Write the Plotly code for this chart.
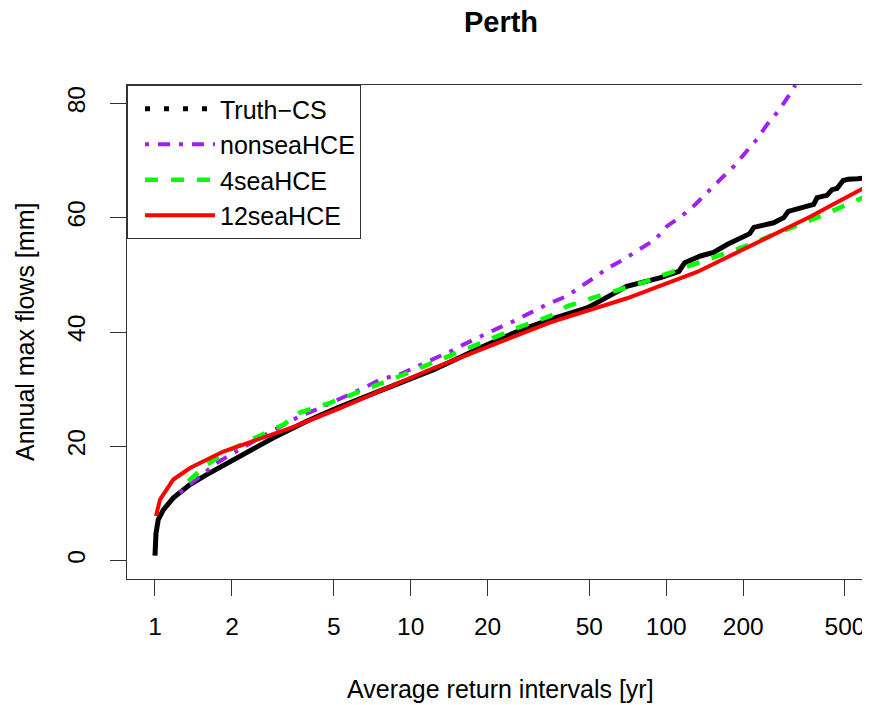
import plotly.graph_objects as go

# ---------------- data ----------------
truth_x = [1.0, 1.003, 1.009, 1.03, 1.078, 1.18, 1.37, 1.594, 2.15, 2.905, 3.92, 5.14,
           9.1, 12.3, 19.3, 26.8, 35.2, 42, 49, 55, 70, 95, 112, 118, 136, 153, 173,
           212, 220, 263, 288, 300, 362, 377, 389, 425, 445, 465, 492, 515, 560, 611]
truth_y = [0.9, 3.0, 4.8, 7.2, 8.9, 11.0, 13.3, 15.05, 18.3, 21.5, 24.4, 26.7,
           31.1, 33.4, 37.5, 40.3, 42.2, 43.3, 44.2, 45.4, 48.0, 49.5, 50.6, 52.1, 53.3, 53.9, 55.3,
           57.2, 58.3, 59.1, 60.0, 61.1, 62.0, 62.3, 63.5, 63.9, 64.9, 65.1, 66.5, 66.7, 66.8, 67.0]

nonsea_x = [1.25, 1.744, 2.50, 3.69, 4.42, 5.8, 6.75, 7.6, 9.1, 10.6, 12.3, 14.3, 16.1, 18.2,
            21.8, 25.3, 29.3, 34.1, 40.9, 53.5, 59.4, 68.1, 81.5, 90.6, 100.6, 115, 129.8,
            144, 162.7, 183, 204, 226, 248, 275, 301, 320]
nonsea_y = [11.9, 17.1, 21.2, 25.3, 26.7, 29.1, 30.5, 31.7, 32.6, 34.0, 35.2, 36.6, 37.8, 39.0,
            40.6, 41.9, 43.4, 44.8, 46.3, 49.8, 51.2, 52.7, 55.0, 56.2, 58.5, 60.3, 62.3,
            64.4, 66.7, 68.9, 71.4, 73.7, 76.3, 78.7, 81.3, 83.2]

sea4_x = [1.35, 1.594, 1.966, 3.18, 3.69, 4.84, 9.1, 13.9, 26.8, 35.2, 40.9, 51.9, 66.1, 84,
          103.7, 132, 163, 204, 255, 315, 389, 629]
sea4_y = [13.9, 16.8, 19.4, 23.8, 25.9, 27.6, 32.3, 35.6, 40.9, 42.8, 44.5, 46.0, 47.4, 48.9,
          50.4, 52.1, 53.6, 55.0, 56.8, 58.5, 60.0, 64.1]

sea12_x = [1.009, 1.046, 1.179, 1.371, 1.85, 2.50, 3.38, 5.30, 12.3, 35.2, 70.2, 132, 233,
           367, 452, 629]
sea12_y = [7.8, 10.7, 14.2, 16.2, 19.1, 21.2, 23.2, 26.7, 33.7, 41.7, 45.9, 50.5, 55.8,
           60.2, 62.4, 65.8]

x_ticks = [1, 2, 5, 10, 20, 50, 100, 200, 500]
x_ticklabels = ["1", "2", "5", "10", "20", "50", "100", "200", "500"]
y_ticks = [0, 20, 40, 60, 80]
y_ticklabels = ["0", "20", "40", "60", "80"]

FONT = "Liberation Sans, Arial, Helvetica, sans-serif"
AX = "#333333"
W, H = 862, 697          # page body has an 8px margin
L, T, B = 119, 77, 126   # plot area: page x 127..870, page y 85..579

fig = go.Figure()

# legend entry for the empirical curve (dotted, as in the reference legend)
fig.add_trace(go.Scatter(x=[None], y=[None], mode="lines", name="Truth\u2212CS",
                         line=dict(color="black", width=5, dash="5px,14px")))
fig.add_trace(go.Scatter(x=truth_x, y=truth_y, mode="lines", name="Truth\u2212CS",
                         showlegend=False, line=dict(color="black", width=5)))
fig.add_trace(go.Scatter(x=nonsea_x, y=nonsea_y, mode="lines", name="nonseaHCE",
                         line=dict(color="#A020F0", width=4, dash="4px,9px,12px,9px")))
fig.add_trace(go.Scatter(x=sea4_x, y=sea4_y, mode="lines", name="4seaHCE",
                         line=dict(color="#00FF00", width=4.5, dash="13px,13px")))
fig.add_trace(go.Scatter(x=sea12_x, y=sea12_y, mode="lines", name="12seaHCE",
                         line=dict(color="#FF0000", width=4)))

fig.update_layout(
    width=W, height=H,
    margin=dict(l=L, r=0, t=T, b=B, pad=0),
    paper_bgcolor="white", plot_bgcolor="white",
    font=dict(family=FONT, size=24, color="black"),
    title=dict(text="<b>Perth</b>", font=dict(size=29, family=FONT, color="black"),
               x=493 / W, xref="container", xanchor="center",
               y=1 - 14 / H, yref="container", yanchor="middle"),
    showlegend=True,
    legend=dict(x=0, y=1, xanchor="left", yanchor="top", bgcolor="white",
                bordercolor=AX, borderwidth=1, font=dict(size=25, family=FONT),
                itemwidth=70, indentation=12, tracegroupgap=0),
    xaxis=dict(type="log", range=[-0.1095, 2.7968], tickvals=x_ticks, ticktext=x_ticklabels,
               ticks="outside", ticklen=16, tickwidth=1, tickcolor=AX,
               showline=True, linecolor=AX, linewidth=1, mirror=True,
               showgrid=False, zeroline=False, ticklabelstandoff=10,
               tickfont=dict(size=24.5, family=FONT)),
    yaxis=dict(range=[-3.2, 83.2], tickvals=y_ticks, ticktext=y_ticklabels, tickangle=-90,
               ticks="outside", ticklen=16, tickwidth=1, tickcolor=AX,
               showline=True, linecolor=AX, linewidth=1, mirror=False,
               showgrid=False, zeroline=False, ticklabelstandoff=15,
               tickfont=dict(size=24.5, family=FONT)),
    annotations=[
        dict(text="Average return intervals [yr]", xref="paper", yref="paper",
             x=(500 - 127) / 743, y=(579 - 689) / 494, xanchor="center", yanchor="middle",
             showarrow=False, font=dict(size=25, family=FONT)),
        dict(text="Annual max flows [mm]", xref="paper", yref="paper",
             x=(25 - 127) / 743, y=(579 - 332) / 494, xanchor="center", yanchor="middle",
             textangle=-90, showarrow=False, font=dict(size=25, family=FONT)),
    ],
)

fig.write_html("out.html")
